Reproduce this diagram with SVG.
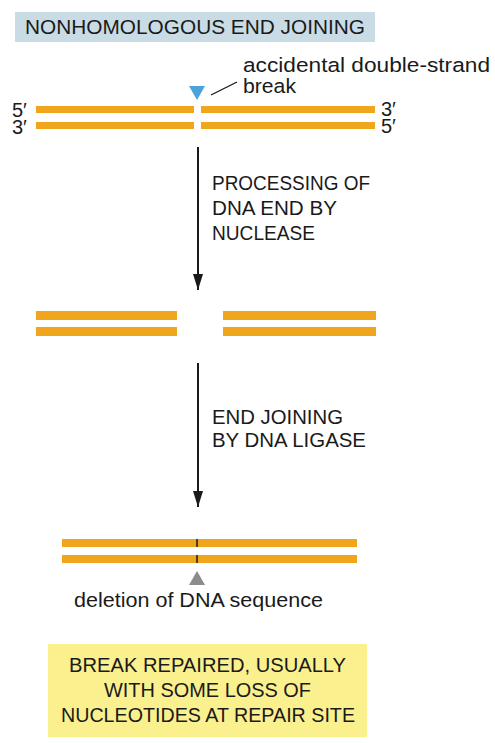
<svg xmlns="http://www.w3.org/2000/svg" width="495" height="743" viewBox="0 0 495 743">
<style>
text{font-family:"Liberation Sans",Arial,sans-serif;fill:#1a1a1a;font-size:19.5px}
.t{font-size:21px}
.l{font-size:20.5px}
.e{font-size:20px}
.s{fill:#EFA51C}
</style>
<defs>
<marker id="ah" viewBox="0 0 16 10" refX="16" refY="5" markerWidth="16" markerHeight="10" markerUnits="userSpaceOnUse" orient="auto">
<path d="M0,0 L16,5 L0,10 Z" fill="#1a1a1a"/>
</marker>
</defs>
<rect width="495" height="743" fill="#fff"/>
<g id="title">
<rect x="15" y="12" width="360" height="30" fill="#C9DCE5"/>
<text x="25" y="34" class="t" textLength="340" lengthAdjust="spacingAndGlyphs">NONHOMOLOGOUS END JOINING</text>
</g>
<g id="dna1">
<rect class="s" x="36" y="106" width="158" height="7"/>
<rect class="s" x="201" y="106" width="174" height="7"/>
<rect class="s" x="36" y="122" width="158" height="7"/>
<rect class="s" x="201" y="122" width="174" height="7"/>
<text x="12" y="117" class="e">5′</text>
<text x="12" y="134" class="e">3′</text>
<text x="381" y="116" class="e">3′</text>
<text x="381" y="133" class="e">5′</text>
</g>
<g id="break">
<path d="M189,86 L205,86 L197,100 Z" fill="#4CA3DB"/>
<line x1="211" y1="95" x2="237" y2="82" stroke="#1a1a1a" stroke-width="1.3"/>
<text x="243" y="72" class="l" textLength="247" lengthAdjust="spacingAndGlyphs">accidental double-strand</text>
<text x="243" y="93" class="l" textLength="53" lengthAdjust="spacingAndGlyphs">break</text>
</g>
<g id="dna2">
<rect class="s" x="36" y="311" width="141" height="9"/>
<rect class="s" x="223" y="311" width="153" height="9"/>
<rect class="s" x="36" y="327" width="141" height="9"/>
<rect class="s" x="223" y="327" width="153" height="9"/>
</g>
<g id="dna3">
<rect class="s" x="62" y="539" width="295" height="8"/>
<rect class="s" x="62" y="555" width="295" height="8"/>
<line x1="197" y1="539" x2="197" y2="547" stroke="#1a1a1a" stroke-width="1.5"/>
<line x1="197" y1="555" x2="197" y2="563" stroke="#1a1a1a" stroke-width="1.5"/>
</g>
<g id="deletion">
<path d="M197,571 L205,585 L189,585 Z" fill="#8C8C8C"/>
<text x="74" y="607" class="l" textLength="249" lengthAdjust="spacingAndGlyphs">deletion of DNA sequence</text>
</g>
<g id="connectors">
<line x1="198" y1="147" x2="198" y2="290" stroke="#1a1a1a" stroke-width="2" marker-end="url(#ah)"/>
<line x1="198" y1="363" x2="198" y2="507" stroke="#1a1a1a" stroke-width="2" marker-end="url(#ah)"/>
</g>
<g id="step1">
<text x="212" y="190" textLength="158" lengthAdjust="spacingAndGlyphs">PROCESSING OF</text>
<text x="212" y="215" textLength="125" lengthAdjust="spacingAndGlyphs">DNA END BY</text>
<text x="212" y="240" textLength="103" lengthAdjust="spacingAndGlyphs">NUCLEASE</text>
</g>
<g id="step2">
<text x="212" y="424" textLength="131" lengthAdjust="spacingAndGlyphs">END JOINING</text>
<text x="212" y="447" textLength="154" lengthAdjust="spacingAndGlyphs">BY DNA LIGASE</text>
</g>
<g id="result">
<rect x="48" y="644" width="319" height="93" fill="#FAF08E"/>
<text x="69" y="672" textLength="277" lengthAdjust="spacingAndGlyphs">BREAK REPAIRED, USUALLY</text>
<text x="104" y="697" textLength="207" lengthAdjust="spacingAndGlyphs">WITH SOME LOSS OF</text>
<text x="61" y="722" textLength="294" lengthAdjust="spacingAndGlyphs">NUCLEOTIDES AT REPAIR SITE</text>
</g>
</svg>
